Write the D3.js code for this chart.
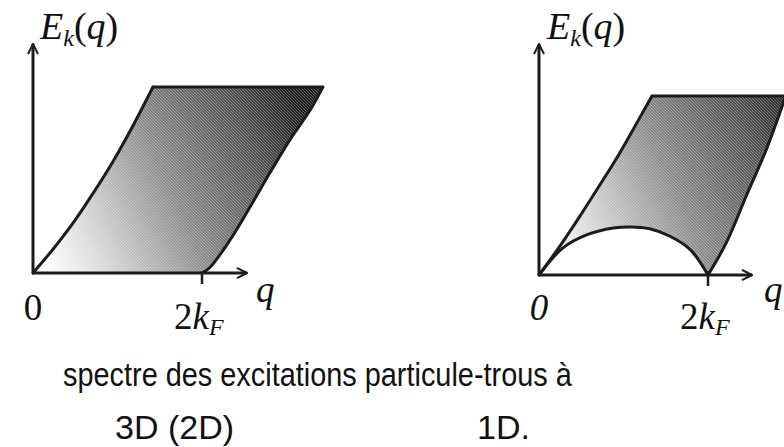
<!DOCTYPE html>
<html>
<head>
<meta charset="utf-8">
<script src="https://cdn.jsdelivr.net/npm/d3@7"></script>
<style>
  html, body { margin: 0; padding: 0; background: #fff; }
  svg { display: block; }
</style>
</head>
<body>
<svg id="chart" width="784" height="447"></svg>
<script>
// Particle-hole continuum boundaries, q in units of k_F, energy in arbitrary units.
// 3D (2D): upper edge, and lower edge beyond 2k_F
const upper3D = [[0, 0], [0.237, 0.32], [0.473, 0.67], [0.71, 1.07], [0.947, 1.5], [1.183, 1.98], [1.42, 2.5]];
const lower3D = [[2, 0], [2.09, 0.07], [2.33, 0.44], [2.57, 0.89], [2.80, 1.34], [3.04, 1.79], [3.28, 2.19], [3.43, 2.5]];
const top3D = 2.5;

// 1D: upper edge, arc below 2k_F, and lower edge beyond 2k_F
const upper1D = [[0, 0], [0.237, 0.37], [0.473, 0.77], [0.71, 1.19], [0.947, 1.62], [1.183, 2.09], [1.337, 2.4]];
const arc1D = [[0, 0], [0.28, 0.36], [0.57, 0.54], [0.88, 0.63], [1.08, 0.645], [1.31, 0.62], [1.55, 0.52], [1.79, 0.34], [2, 0]];
const lower1D = [[2, 0], [2.22, 0.44], [2.46, 1.08], [2.70, 1.71], [2.92, 2.4]];
const top1D = 2.4;

const tickLabels = ["0", "2k", "F"];
const captionLine1 = "spectre des excitations particule-trous à";
const captionLeft = "3D (2D)";
const captionRight = "1D.";

const svg = d3.select("#chart");
const defs = svg.append("defs");

const ink = "#1c1c1c";

// arrow head for axes
defs.append("marker")
  .attr("id", "arrow")
  .attr("viewBox", "0 0 10 10")
  .attr("refX", 9).attr("refY", 5)
  .attr("markerWidth", 4.2).attr("markerHeight", 4.2)
  .attr("markerUnits", "strokeWidth")
  .attr("orient", "auto")
  .append("path")
  .attr("d", "M1,1 L9,5 L1,9")
  .attr("fill", "none")
  .attr("stroke", ink)
  .attr("stroke-width", 1.6);

// fine diagonal hatching over the shaded region
const hatch = defs.append("pattern")
  .attr("id", "hatch")
  .attr("patternUnits", "userSpaceOnUse")
  .attr("width", 3).attr("height", 3);
hatch.append("path")
  .attr("d", "M-1,2 L1,4 M0,0 L3,3 M2,-1 L4,1")
  .attr("stroke", "#fff")
  .attr("stroke-width", 0.9)
  .attr("stroke-opacity", 0.35);

function gradient(id, x1, y1, x2, y2) {
  const g = defs.append("linearGradient")
    .attr("id", id)
    .attr("gradientUnits", "userSpaceOnUse")
    .attr("x1", x1).attr("y1", y1).attr("x2", x2).attr("y2", y2);
  [[0, "#ffffff"], [0.18, "#d8d8d8"], [0.5, "#888888"], [0.8, "#515151"], [1, "#1e1e1e"]]
    .forEach(([o, c]) => g.append("stop").attr("offset", o).attr("stop-color", c));
}

function panel(opts) {
  const x = d3.scaleLinear().domain([0, 2]).range(opts.xRange);
  const y = d3.scaleLinear().domain([0, opts.top]).range(opts.yRange);
  const line = d3.line().x(d => x(d[0])).y(d => y(d[1])).curve(d3.curveCatmullRom.alpha(0.5));
  const seg = pts => line(pts);
  const join = (a, b) => a + b.replace(/^M/, "L");

  const g = svg.append("g");
  gradient(opts.id, x(0.1), y(0.2), x(3.3), y(opts.top * 0.75));

  const upperEnd = opts.upper[opts.upper.length - 1];
  const lowerTop = opts.lower[opts.lower.length - 1];
  const lowerRev = opts.lower.slice().reverse();

  // outline of the continuum
  let d = join(seg(opts.upper), `M${x(lowerTop[0])},${y(opts.top)}`);
  d = join(d, seg(lowerRev));
  if (opts.arc) d = join(d, seg(opts.arc.slice().reverse()));
  else d += `L${x(0)},${y(0)}`;
  d += "Z";

  g.append("path").attr("d", d).attr("fill", `url(#${opts.id})`);
  g.append("path").attr("d", d).attr("fill", "url(#hatch)");

  const strokes = [seg(opts.upper), seg(opts.lower),
    `M${x(upperEnd[0])},${y(opts.top)}L${x(lowerTop[0])},${y(opts.top)}`];
  if (opts.arc) strokes.push(seg(opts.arc));
  strokes.forEach(s => g.append("path").attr("d", s)
    .attr("fill", "none").attr("stroke", ink).attr("stroke-width", 3)
    .attr("stroke-linejoin", "round").attr("stroke-linecap", "round"));

  // axes
  g.append("line")
    .attr("x1", x(0)).attr("y1", y(0)).attr("x2", x(0)).attr("y2", opts.yAxisTop)
    .attr("stroke", ink).attr("stroke-width", 3).attr("marker-end", "url(#arrow)");
  g.append("line")
    .attr("x1", x(0) - 1).attr("y1", y(0)).attr("x2", opts.xAxisEnd).attr("y2", y(0))
    .attr("stroke", ink).attr("stroke-width", 3).attr("marker-end", "url(#arrow)");
  // tick at 2k_F
  g.append("line")
    .attr("x1", x(2)).attr("y1", y(0) - opts.tickUp).attr("x2", x(2)).attr("y2", y(0) + 11)
    .attr("stroke", ink).attr("stroke-width", 2.5);

  const serif = "'Liberation Serif', 'Times New Roman', serif";
  // axis title E_k(q)
  const t = g.append("text")
    .attr("x", opts.titleX).attr("y", 39)
    .attr("font-family", serif).attr("font-size", 38).attr("font-style", "italic").attr("fill", "#111");
  t.append("tspan").text("E");
  t.append("tspan").attr("font-size", 24).attr("dy", 7).text("k");
  t.append("tspan").attr("dy", -7).attr("font-style", "normal").text("(");
  t.append("tspan").text("q");
  t.append("tspan").attr("font-style", "normal").text(")");

  // origin label
  g.append("text")
    .attr("x", x(0)).attr("y", 320).attr("text-anchor", "middle")
    .attr("font-family", serif).attr("font-size", 37)
    .attr("font-style", opts.zeroItalic ? "italic" : "normal").attr("fill", "#111")
    .text(tickLabels[0]);

  // 2k_F label
  const k = g.append("text")
    .attr("x", x(2) - 28).attr("y", 329)
    .attr("font-family", serif).attr("font-size", 37).attr("fill", "#111");
  k.append("tspan").text(tickLabels[1][0]);
  k.append("tspan").attr("font-style", "italic").text(tickLabels[1][1]);
  k.append("tspan").attr("font-style", "italic").attr("font-size", 24).attr("dy", 6).text(tickLabels[2]);

  // q label
  g.append("text")
    .attr("x", opts.qX).attr("y", 302)
    .attr("font-family", serif).attr("font-size", 37).attr("font-style", "italic").attr("fill", "#111")
    .text("q");
}

panel({
  id: "shade3D", xRange: [33, 202], yRange: [273, 87], top: top3D,
  upper: upper3D, lower: lower3D, arc: null,
  yAxisTop: 44, xAxisEnd: 247, tickUp: 0,
  titleX: 40, qX: 256, zeroItalic: false
});

panel({
  id: "shade1D", xRange: [539, 708], yRange: [275, 96], top: top1D,
  upper: upper1D, lower: lower1D, arc: arc1D,
  yAxisTop: 44, xAxisEnd: 752, tickUp: 4,
  titleX: 547, qX: 764, zeroItalic: true
});

// caption
const sans = "'Liberation Sans', Arial, Helvetica, sans-serif";
function caption(str, x0, y0, size, scale) {
  const el = svg.append("text")
    .attr("x", x0).attr("y", y0)
    .attr("font-family", sans).attr("font-size", size).attr("fill", "#111")
    .text(str);
  const w = el.node().getComputedTextLength();
  el.attr("textLength", w * scale).attr("lengthAdjust", "spacingAndGlyphs");
}
caption(captionLine1, 63, 386, 33, 0.875);
caption(captionLeft, 115, 439, 34, 1);
caption(captionRight, 477, 439, 34, 1);
</script>
</body>
</html>
